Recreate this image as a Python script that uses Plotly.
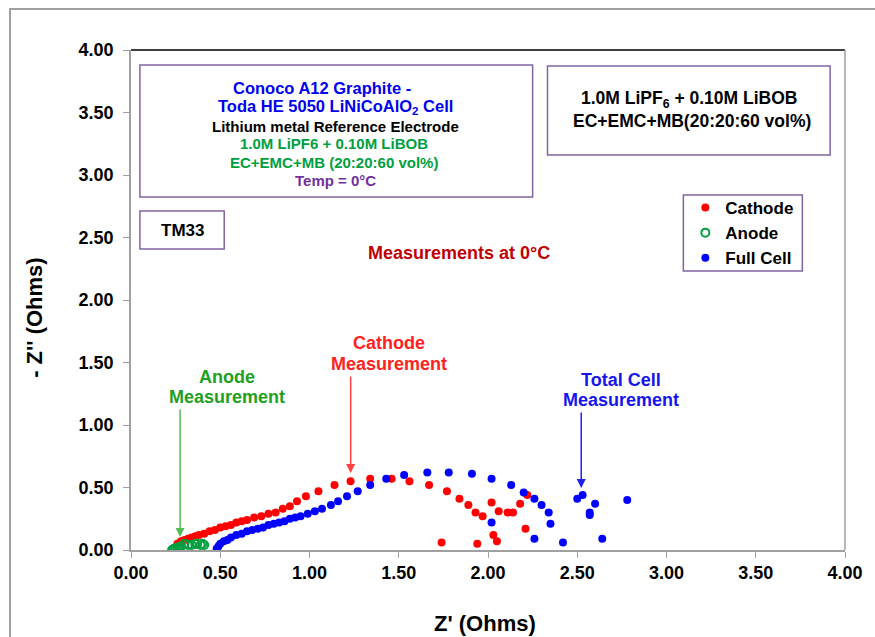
import plotly.graph_objects as go

# ---------------- data ----------------
cathode_x = [0.26, 0.28, 0.30, 0.32, 0.34, 0.36, 0.38, 0.41, 0.44, 0.47, 0.50, 0.53, 0.56, 0.59,
             0.62, 0.65, 0.69, 0.73, 0.77, 0.81, 0.85, 0.89, 0.93, 0.98, 1.05, 1.14, 1.23, 1.34,
             1.46, 1.56, 1.67, 1.77, 1.84, 1.89, 1.93, 1.97, 2.02, 2.06, 2.11, 2.14, 2.18, 2.22,
             2.21, 2.03, 2.05, 1.94, 1.74]
cathode_y = [0.05, 0.07, 0.08, 0.09, 0.10, 0.11, 0.12, 0.13, 0.15, 0.16, 0.18, 0.19, 0.20, 0.22,
             0.23, 0.24, 0.26, 0.27, 0.29, 0.30, 0.33, 0.35, 0.39, 0.43, 0.47, 0.52, 0.55, 0.57,
             0.57, 0.55, 0.52, 0.47, 0.41, 0.36, 0.30, 0.27, 0.38, 0.31, 0.30, 0.30, 0.37, 0.44,
             0.17, 0.12, 0.07, 0.05, 0.06]

anode_x = [0.23, 0.24, 0.25, 0.26, 0.27, 0.28, 0.30, 0.32, 0.34, 0.36, 0.37, 0.39, 0.40, 0.41]
anode_y = [0.00, 0.01, 0.01, 0.02, 0.02, 0.03, 0.05, 0.04, 0.04, 0.05, 0.05, 0.04, 0.05, 0.04]

full_x = [0.48, 0.49, 0.50, 0.52, 0.54, 0.56, 0.59, 0.62, 0.65, 0.68, 0.71, 0.74, 0.77, 0.80,
          0.83, 0.86, 0.89, 0.92, 0.95, 0.99, 1.03, 1.07, 1.12, 1.16, 1.21, 1.27, 1.34, 1.43,
          1.53, 1.66, 1.78, 1.91, 2.02, 2.13, 2.20, 2.26, 2.30, 2.34, 2.35, 2.02, 2.26, 2.42,
          2.50, 2.53, 2.57, 2.57, 2.60, 2.78, 2.64]
full_y = [0.01, 0.03, 0.05, 0.07, 0.08, 0.10, 0.12, 0.13, 0.15, 0.16, 0.17, 0.18, 0.20, 0.21,
          0.22, 0.23, 0.25, 0.26, 0.27, 0.29, 0.31, 0.33, 0.36, 0.39, 0.43, 0.47, 0.52, 0.57,
          0.60, 0.62, 0.62, 0.61, 0.57, 0.52, 0.46, 0.41, 0.36, 0.30, 0.21, 0.22, 0.09, 0.06,
          0.41, 0.44, 0.30, 0.28, 0.37, 0.40, 0.09]

tick_vals = [0, 0.5, 1, 1.5, 2, 2.5, 3, 3.5, 4]
tick_text = ["0.00", "0.50", "1.00", "1.50", "2.00", "2.50", "3.00", "3.50", "4.00"]

# ---------------- layout helpers ----------------
W, H = 875, 637
L, R, T, B = 131, 851, 50, 550
def X(px):
    return (px - L) / (R - L)
def Y(py):
    return (B - py) / (B - T)

FONT = "Liberation Sans, Arial, sans-serif"
PURPLE = "#8064A2"
GREEN = "#00A040"

fig = go.Figure()
fig.add_trace(go.Scatter(x=cathode_x, y=cathode_y, mode="markers", name="Cathode",
                         legendgroup="a",
                         marker=dict(color="#FF0000", size=8, symbol="circle")))
fig.add_trace(go.Scatter(x=anode_x, y=anode_y, mode="markers", name="Anode",
                         legendgroup="b",
                         marker=dict(color=GREEN, size=8, symbol="circle-open",
                                     line=dict(width=2, color=GREEN))))
fig.add_trace(go.Scatter(x=full_x, y=full_y, mode="markers", name="Full Cell",
                         legendgroup="c",
                         marker=dict(color="#0000FF", size=8, symbol="circle")))

axis_common = dict(range=[0, 4], tickvals=tick_vals, ticktext=tick_text,
                   showgrid=False, zeroline=False, showline=True, linecolor="#A0A0A0",
                   linewidth=1.5, ticks="outside", ticklen=6, tickcolor="#A0A0A0",
                   tickfont=dict(family=FONT, size=18, color="black", weight="bold"))
fig.update_xaxes(**axis_common)
fig.update_yaxes(**axis_common, ticklabelstandoff=6)

shapes = []
# outer chart border
shapes.append(dict(type="rect", xref="paper", yref="paper", x0=X(9), x1=X(890), y0=Y(660), y1=Y(9),
                   line=dict(color="#A0A0A0", width=2)))
# top (black) and right (gray) plot frame
shapes.append(dict(type="line", xref="paper", yref="paper", x0=0, x1=1, y0=1, y1=1,
                   line=dict(color="black", width=1.5)))
shapes.append(dict(type="line", xref="paper", yref="paper", x0=1, x1=1, y0=0, y1=1,
                   line=dict(color="#A0A0A0", width=1.5)))
# text boxes
for (x0, y0, x1, y1) in [(140, 65, 536, 197), (551, 66, 836, 155), (140, 211, 225, 249)]:
    shapes.append(dict(type="rect", xref="paper", yref="paper", x0=X(x0), x1=X(x1), y0=Y(y1), y1=Y(y0),
                       line=dict(color=PURPLE, width=1.5), fillcolor="white", layer="above"))
# legend frame
shapes.append(dict(type="rect", xref="paper", yref="paper", x0=X(688), x1=X(808), y0=Y(271), y1=Y(195),
                   line=dict(color=PURPLE, width=1.5), fillcolor="white", layer="below"))

ann = []
def txt(px, py, text, size, color, bold=True, xanchor="center", angle=0):
    ann.append(dict(xref="paper", yref="paper", x=X(px), y=Y(py), text=text, showarrow=False,
                    xanchor=xanchor, yanchor="middle", textangle=angle,
                    font=dict(family=FONT, size=size, color=color, weight="bold" if bold else "normal")))

# box 1
txt(324, 88, "Conoco A12 Graphite -", 16.5, "#0000EE")
txt(337, 107, "Toda HE 5050 LiNiCoAlO<sub>2</sub> Cell", 16.5, "#0000EE")
txt(337, 126, "Lithium metal Reference Electrode", 15, "black")
txt(336, 144, "1.0M LiPF6 + 0.10M LiBOB", 15, GREEN)
txt(336, 162, "EC+EMC+MB (20:20:60 vol%)", 15, GREEN)
txt(337, 180, "Temp = 0°C", 15, "#7030A0")
# box 2
txt(694, 100, "1.0M LiPF<sub>6</sub> + 0.10M LiBOB", 17.5, "black")
txt(697, 121, "EC+EMC+MB(20:20:60 vol%)", 17.5, "black")
# TM33
txt(183, 230, "TM33", 17, "black")
# other labels
txt(462, 253, "Measurements at 0°C", 18, "#C00000")
txt(228, 377, "Anode", 18, "#22A022")
txt(228, 397, "Measurement", 18, "#22A022")
txt(391, 343, "Cathode", 18, "#FF2020")
txt(391, 364, "Measurement", 18, "#FF2020")
txt(625, 380, "Total Cell", 18, "#1515EE")
txt(625, 400, "Measurement", 18, "#1515EE")
# axis titles
txt(488, 623, "Z' (Ohms)", 22, "black")
txt(33, 318, "- Z'' (Ohms)", 22, "black", angle=-90)

# arrows (heads in data coords)
def arrow(px, py_head, py_tail, color):
    ann.append(dict(xref="x", yref="y", x=(px - L) / 180.0, y=(B - py_head) / 125.0,
                    ax=0, ay=py_tail - py_head, axref="pixel", ayref="pixel",
                    text="", showarrow=True, arrowhead=2, arrowsize=1.2, arrowwidth=1.5,
                    arrowcolor=color, standoff=0))
arrow(180.5, 537, 408, "#55BB55")
arrow(352.5, 473, 375, "#FF4040")
arrow(585, 488, 411, "#2020EE")

fig.update_layout(
    width=W, height=H,
    margin=dict(l=L, r=W - R, t=T, b=H - B),
    paper_bgcolor="white", plot_bgcolor="white",
    showlegend=True,
    legend=dict(x=X(690), y=Y(190), xanchor="left", yanchor="top",
                borderwidth=0, bgcolor="rgba(0,0,0,0)",
                tracegroupgap=0, itemsizing="trace",
                font=dict(family=FONT, size=17, color="black", weight="bold")),
    shapes=shapes, annotations=ann,
)

fig.write_html("out.html")
